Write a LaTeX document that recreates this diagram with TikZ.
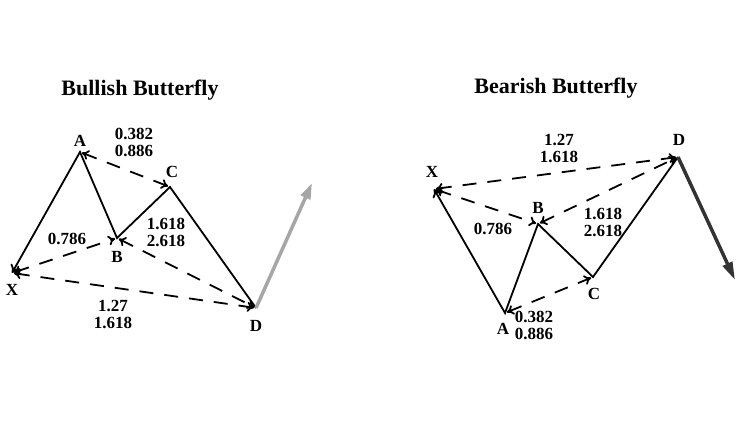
\documentclass[tikz,border=0pt]{standalone}
\usepackage{fontspec}
\setmainfont{Liberation Serif}
\usetikzlibrary{arrows.meta}
\begin{document}
\begin{tikzpicture}[x=1pt,y=-1pt,
  lab/.style={font=\fontsize{17}{17}\selectfont\bfseries,align=center,inner sep=0pt},
  ttl/.style={font=\fontsize{22}{24}\selectfont\bfseries,inner sep=0pt},
  leg/.style={line width=1.8pt},
  dsh/.style={line width=1.8pt,dash pattern=on 14pt off 11pt,shorten <=2pt,shorten >=2pt,{To[length=7pt,width=10pt]}-{To[length=7pt,width=10pt]}}]
\useasboundingbox (0,0) rectangle (747,427);
\fill[white] (0,0) rectangle (747,427);
% left
\node[ttl] (t1) at (140,90) {Bullish Butterfly};
\coordinate (X) at (12,273); \coordinate (A) at (80,152); \coordinate (B) at (117,238);
\coordinate (C) at (170,187); \coordinate (D) at (256,308); \coordinate (E) at (312,183);
\draw[leg,{To[length=8pt,width=11pt]}-] (X) -- (A) -- (B) -- (C) -- (D);
\draw[dsh] (A) -- (C);
\draw[dsh] (X) -- (B);
\draw[dsh] (B) -- (D);
\draw[dsh] (X) -- (D);
\draw[line width=3.5pt,gray!70,-{Triangle[length=16pt,width=10pt]}] (D) -- (E);
\node[lab] (lA) at (80,141) {A};
\node[lab] (lB) at (117,257) {B};
\node[lab] (lC) at (172,172) {C};
\node[lab] (lX) at (12,290) {X};
\node[lab] (lD) at (256,326) {D};
\node[lab] (r1) at (134,142) {0.382\\0.886};
\node[lab] (r2) at (67,239) {0.786};
\node[lab] (r3) at (166,232) {1.618\\2.618};
\node[lab] (r4) at (113,314) {1.27\\1.618};
% right
\node[ttl] (t2) at (556,88) {Bearish Butterfly};
\coordinate (X2) at (434,189); \coordinate (A2) at (505,313); \coordinate (B2) at (538,224);
\coordinate (C2) at (593,277); \coordinate (D2) at (678,157); \coordinate (E2) at (735,280);
\draw[leg,{To[length=8pt,width=11pt]}-] (X2) -- (A2) -- (B2) -- (C2) -- (D2);
\draw[dsh] (A2) -- (C2);
\draw[dsh] (X2) -- (B2);
\draw[dsh] (B2) -- (D2);
\draw[dsh] (X2) -- (D2);
\draw[line width=3.5pt,black!80,-{Triangle[length=18pt,width=10pt]}] (D2) -- (E2);
\node[lab] (mA) at (503,329) {A};
\node[lab] (mB) at (538,208) {B};
\node[lab] (mC) at (594,294) {C};
\node[lab] (mX) at (432,172) {X};
\node[lab] (mD) at (679,140) {D};
\node[lab] (s1) at (559,148) {1.27\\1.618};
\node[lab] (s2) at (493,229) {0.786};
\node[lab] (s3) at (603,222) {1.618\\2.618};
\node[lab] (s4) at (534,325) {0.382\\0.886};
\end{tikzpicture}
\end{document}
